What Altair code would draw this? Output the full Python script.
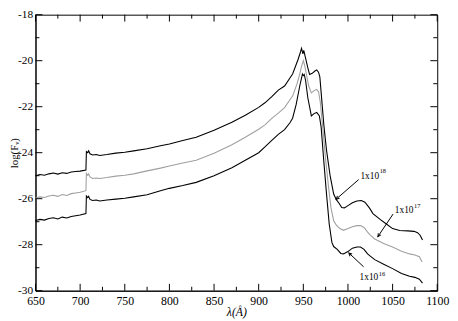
import altair as alt
import pandas as pd

# ---- data ----
x_18 = [650, 655, 660, 665, 670, 675, 680, 685, 690, 695, 700, 706.5, 707, 708.5, 709.5, 711, 714, 718, 722, 730,
        740, 750, 760, 775, 790, 800, 815, 830, 850, 870, 885, 900, 907, 915, 922, 929, 935, 938, 944, 947, 948,
        949.5, 950.5, 952, 955, 957, 960, 963, 965, 967, 968.5, 970, 973, 976, 980, 984, 987, 990, 993, 996,
        1000, 1005, 1010, 1015, 1019, 1024, 1028, 1036, 1043, 1050, 1058, 1067, 1074, 1078, 1081, 1083.5]
y_18 = [-25.0, -24.95, -24.98, -24.92, -24.88, -24.93, -24.87, -24.9, -24.84, -24.82, -24.8, -24.75, -23.95, -24.0,
        -23.92, -24.05, -24.1, -24.08, -24.12, -24.08, -24.02, -23.98, -23.92, -23.83, -23.7, -23.62, -23.47, -23.33,
        -23.02, -22.68, -22.375, -22.03, -21.83, -21.55, -21.28, -21.1, -20.75, -20.58, -19.96, -19.6, -19.46,
        -19.7, -19.55, -19.8, -20.3, -20.6, -20.55, -20.45, -20.4, -20.5, -20.7, -21.4, -22.8, -23.9, -25.0,
        -25.8, -26.04, -26.2, -26.38, -26.4, -26.3, -26.18, -26.1, -26.08, -26.15, -26.4, -26.65, -26.9, -27.1,
        -27.3, -27.38, -27.4, -27.42, -27.48, -27.6, -27.8]

x_17 = [650, 655, 660, 665, 670, 675, 680, 685, 690, 695, 700, 706.5, 707, 708.5, 709.5, 711, 714, 718, 722, 730,
        740, 750, 760, 775, 790, 800, 815, 830, 850, 870, 885, 900, 907, 915, 922, 929, 935, 938, 943, 946, 948,
        950, 951.5, 953, 956, 959, 962, 965, 967, 969, 972, 975, 978, 981, 984, 987, 991, 995, 1000, 1005, 1010,
        1014, 1018, 1022, 1025, 1030, 1040, 1050, 1060, 1069, 1075, 1080, 1083]
y_17 = [-25.97, -25.92, -25.95, -25.88, -25.85, -25.9, -25.82, -25.86, -25.78, -25.75, -25.72, -25.65, -24.9, -24.98,
        -24.92, -25.05, -25.12, -25.1, -25.12, -25.08, -25.02, -24.98, -24.92, -24.79, -24.67, -24.58, -24.45, -24.33,
        -24.02, -23.65, -23.33, -22.98, -22.79, -22.5, -22.28, -22.04, -21.7, -21.54, -21.0, -20.58, -20.25,
        -20.0, -20.2, -20.5, -21.1, -21.4, -21.3, -21.25, -21.35, -21.8, -23.0, -24.3, -25.4, -26.4, -26.96,
        -27.15, -27.3, -27.375, -27.3, -27.22, -27.17, -27.17, -27.25, -27.45, -27.58, -27.75, -27.95, -28.1,
        -28.28, -28.4, -28.45, -28.52, -28.75]

x_16 = [650, 655, 660, 665, 670, 675, 680, 685, 690, 695, 700, 706.5, 707, 708.5, 709.5, 711, 714, 718, 722, 730,
        740, 750, 760, 775, 790, 800, 815, 830, 850, 870, 885, 900, 907, 915, 922, 929, 935, 938, 942, 946, 949,
        950, 951, 952.5, 955, 959, 962, 965, 968, 970, 973, 976, 979, 982, 984, 988, 992, 995, 1000, 1005, 1010,
        1014, 1018, 1022, 1025, 1030, 1040, 1050, 1060, 1069, 1075, 1080, 1083.5]
y_16 = [-26.95, -26.9, -26.93, -26.86, -26.83, -26.88, -26.8, -26.84, -26.77, -26.74, -26.71, -26.65, -25.88, -25.95,
        -25.9, -26.03, -26.08, -26.06, -26.1, -26.06, -26.02, -25.98, -25.92, -25.83, -25.65, -25.55, -25.43, -25.29,
        -25.0, -24.65, -24.33, -24.0, -23.75, -23.45, -23.2, -23.0, -22.7, -22.5, -21.9, -21.1, -20.58,
        -20.65, -20.6, -20.85, -21.6, -22.4, -22.3, -22.25, -22.4, -22.9, -24.4, -25.8, -27.1, -27.9, -28.08,
        -28.2, -28.38, -28.4, -28.3, -28.15, -28.1, -28.1, -28.2, -28.4, -28.5, -28.65, -28.85, -29.04, -29.25,
        -29.375, -29.42, -29.5, -29.67]

series_names = ["1e18", "1e17", "1e16"]
series_colors = ["#000000", "#a0a0a0", "#000000"]

x_major = [650, 700, 750, 800, 850, 900, 950, 1000, 1050, 1100]
x_minor = [675, 725, 775, 825, 875, 925, 975, 1025, 1075]
y_major = [-30, -28, -26, -24, -22, -20, -18]
y_minor = [-29, -27, -25, -23, -21, -19]

label_text = ["1x10", "1x10", "1x10"]
label_x = [1014, 1052.5, 1013]
label_y = [-25.0, -26.5, -29.42]
sup_text = ["18", "17", "16"]
sup_x = [1035.5, 1074, 1034.5]
sup_y = [-24.8, -26.32, -29.26]

arrow_x = [1012, 1050.5, 1017.5]
arrow_y = [-25.17, -26.67, -28.96]
arrow_x2 = [986.8, 1033.5, 1001]
arrow_y2 = [-26.02, -27.65, -28.36]
arrow_angle = [228, 214, 315]

# ---- build tables ----
rows = []
for name, xs, ys in zip(series_names, [x_18, x_17, x_16], [y_18, y_17, y_16]):
    for a, b in zip(xs, ys):
        rows.append({"x": a, "y": b, "s": name})
df = pd.DataFrame(rows)

W, H = 409, 281
MAJ, MIN = 7, 4
FONT = "Liberation Serif, Times New Roman, serif"

xs = alt.Scale(domain=[650, 1100], nice=False, zero=False)
ys = alt.Scale(domain=[-30, -18], nice=False, zero=False)

lines = alt.Chart(df).mark_line(strokeWidth=1.1).encode(
    x=alt.X("x:Q", scale=xs,
            axis=alt.Axis(values=x_major, ticks=False, grid=False, labelFont=FONT, labelFontSize=12,
                          labelColor="black", labelPadding=5, domainColor="black",
                          labelExpr="'' + datum.value",
                          title="λ(Å)", titleFont=FONT, titleFontSize=12, titleFontStyle="italic",
                          titleFontWeight="normal", titlePadding=0, labelFlush=False)),
    y=alt.Y("y:Q", scale=ys,
            axis=alt.Axis(values=y_major, ticks=False, grid=False, labelFont=FONT, labelFontSize=11.5,
                          labelColor="black", labelPadding=3, domainColor="black",
                          labelExpr="'' + datum.value",
                          title="log(Fᵥ)", titleFont=FONT, titleFontSize=11, titleFontWeight="normal",
                          titleX=-21, titleY=H / 2, titleAngle=270, titleAlign="center",
                          titleBaseline="middle", labelFlush=False)),
    color=alt.Color("s:N", scale=alt.Scale(domain=series_names, range=series_colors), legend=None),
    detail="s:N",
    order=alt.Order("x:Q"),
)

def xticks(vals, length):
    d = pd.DataFrame({"v": vals})
    b = alt.Chart(d).mark_rule(color="black", strokeWidth=1).encode(
        x=alt.X("v:Q", scale=xs), y=alt.value(H), y2=alt.value(H - length))
    t = alt.Chart(d).mark_rule(color="black", strokeWidth=1).encode(
        x=alt.X("v:Q", scale=xs), y=alt.value(0), y2=alt.value(length))
    return b + t

def yticks(vals, length):
    d = pd.DataFrame({"v": vals})
    l = alt.Chart(d).mark_rule(color="black", strokeWidth=1).encode(
        y=alt.Y("v:Q", scale=ys), x=alt.value(0), x2=alt.value(length))
    r = alt.Chart(d).mark_rule(color="black", strokeWidth=1).encode(
        y=alt.Y("v:Q", scale=ys), x=alt.value(W), x2=alt.value(W - length))
    return l + r

ticks = xticks(x_major, MAJ) + xticks(x_minor, MIN) + yticks(y_major, MAJ) + yticks(y_minor, MIN)

lab_df = pd.DataFrame({"x": label_x, "y": label_y, "t": label_text})
sup_df = pd.DataFrame({"x": sup_x, "y": sup_y, "t": sup_text})
arr_df = pd.DataFrame({"x": arrow_x, "y": arrow_y, "x2": arrow_x2, "y2": arrow_y2, "a": arrow_angle})

labels = alt.Chart(lab_df).mark_text(font=FONT, fontSize=9.5, align="left", baseline="middle", color="black").encode(
    x=alt.X("x:Q", scale=xs), y=alt.Y("y:Q", scale=ys), text="t:N")
sups = alt.Chart(sup_df).mark_text(font=FONT, fontSize=6.5, align="left", baseline="middle", color="black").encode(
    x=alt.X("x:Q", scale=xs), y=alt.Y("y:Q", scale=ys), text="t:N")
shafts = alt.Chart(arr_df).mark_rule(color="black", strokeWidth=1).encode(
    x=alt.X("x:Q", scale=xs), y=alt.Y("y:Q", scale=ys), x2="x2:Q", y2="y2:Q")
heads = alt.Chart(arr_df).mark_point(shape="M -0.5 1 L 0 0 L 0.5 1", filled=False, color="black",
                                     strokeWidth=1, size=40, opacity=1).encode(
    x=alt.X("x2:Q", scale=xs), y=alt.Y("y2:Q", scale=ys), angle=alt.Angle("a:Q", scale=None))

chart = alt.layer(lines, ticks, shafts, heads, labels, sups).properties(
    width=W, height=H,
    autosize=alt.AutoSizeParams(type="none"),
    padding={"left": 28, "top": 4, "right": 13, "bottom": 26},
    background="white",
).configure_view(stroke="black", strokeWidth=1)

chart.save("out.html", embed_options={"renderer": "svg", "actions": False})
